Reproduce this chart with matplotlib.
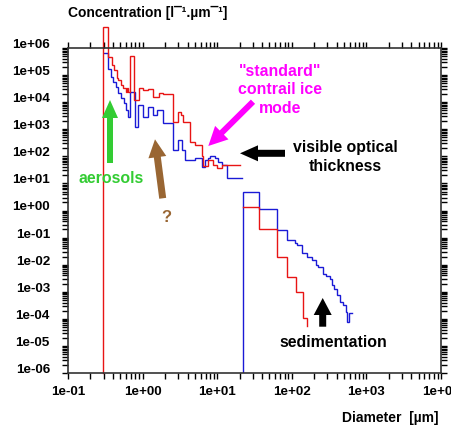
import numpy as np
import matplotlib
matplotlib.use('Agg')
import matplotlib.pyplot as plt
from matplotlib.patches import FancyArrow
from matplotlib.transforms import Affine2D
from matplotlib.ticker import LogLocator, NullFormatter, FuncFormatter

plt.rcParams['font.family'] = ['Liberation Sans', 'DejaVu Sans']
plt.rcParams['font.weight'] = 'bold'

# ---------------- data (diameter in um, concentration in l^-1 um^-1) ----------------
red_upper_diam = [0.297, 0.347, 0.389, 0.418, 0.450, 0.472, 0.508, 0.551, 0.593, 0.624,
                  0.643, 0.678, 0.774, 0.904, 1.02, 1.19, 1.39, 1.66, 1.89, 2.53,
                  2.94, 3.27, 3.52, 4.32, 5.04, 6.19, 6.52, 7.60, 8.87, 10.0,
                  11.5, 20.2]
red_upper_conc = [5.75e6, 4.8e5, 2.3e5, 1.55e5, 7.6e4, 6.6e4, 4.3e4, 3.2e4, 2.45e4, 3.3e4,
                  2.45e4, 5.0e5, 1.2e4, 3.2e4, 2.8e4, 3.1e4, 1.6e4, 2.2e4, 2.0e4, 1.9e3,
                  4.5e3, 3.4e3, 1.9e3, 350, 260, 100, 44, 71, 48, 36,
                  48]

blue_upper_diam = [0.304, 0.347, 0.377, 0.407, 0.440, 0.475, 0.513, 0.555, 0.598, 0.637,
                   0.678, 0.791, 0.875, 1.02, 1.19, 1.36, 1.56, 1.89, 2.58, 3.01,
                   3.34, 3.70, 5.04, 6.19, 6.85, 7.60, 8.00, 9.33, 10.35, 11.5,
                   13.4, 21.3]
blue_upper_conc = [6.8e5, 1.66e5, 8.5e4, 5.5e4, 3.6e4, 2.2e4, 1.4e4, 9.3e3, 5.1e3, 2.8e3,
                   2.4e4, 1.23e3, 7.9e3, 2.9e3, 6.8e3, 3.4e3, 5.1e3, 1.74e3, 174, 400,
                   174, 72, 87, 42, 72, 85, 102, 87, 62, 48,
                   15.5]

blue_tail_diam = [22.4, 36.6, 62.7, 87.1, 110, 116, 136, 161, 185, 211,
                  226, 259, 287, 325, 342, 368, 400, 443, 491, 527,
                  555, 590, 635]
blue_tail_conc = [4.93, 1.11, 0.19, 0.081, 0.062, 0.053, 0.0275, 0.0196, 0.0148, 0.0098,
                  0.0084, 0.00447, 0.0038, 0.00288, 0.00178, 0.00123, 7.6e-4, 4.3e-4, 3.2e-4, 1.8e-4,
                  7.9e-5, 1.6e-4]

red_tail_diam = [22.4, 36.6, 62.7, 87.1, 113, 143, 161]
red_tail_conc = [1.31, 0.202, 0.0196, 0.00359, 9.5e-4, 1.05e-4]
red_tail_end = 5.4e-5

x_ticks = [1e-1, 1e0, 1e1, 1e2, 1e3, 1e4]
y_ticks = [10.0 ** k for k in range(-6, 7)]

# ---------------- figure ----------------
W, H = 451, 426
fig = plt.figure(figsize=(W / 100, H / 100), dpi=100)
ax = fig.add_axes([68 / W, 1 - 373 / H, (441 - 68) / W, (373 - 48) / H])
ax.set_xscale('log')
ax.set_yscale('log')
ax.set_xlim(x_ticks[0], x_ticks[-1])
ax.set_ylim(y_ticks[0], y_ticks[-1])
YMIN = y_ticks[0]

RED = '#e81414'
BLUE = '#1a1ad6'


def steps(edges, conc, color, from_floor=False, end_level=None, clip=True):
    x = list(edges)
    y = list(conc) + [conc[-1] if end_level is None else end_level]
    if from_floor:
        x = [edges[0]] + x
        y = [YMIN] + y
    ax.plot(x, y, drawstyle='steps-post', color=color, lw=1.0, clip_on=clip,
            solid_joinstyle='miter')


steps(blue_upper_diam, blue_upper_conc, BLUE)
steps(blue_tail_diam, blue_tail_conc, BLUE, from_floor=True)
steps(red_upper_diam, red_upper_conc, RED, from_floor=True, clip=False)
steps(red_tail_diam, red_tail_conc, RED, end_level=red_tail_end)

# ticks
ax.set_xticks(x_ticks)
ax.set_yticks(y_ticks)
ax.xaxis.set_minor_locator(LogLocator(base=10, subs=np.arange(2, 10) * 1.0, numticks=100))
ax.yaxis.set_minor_locator(LogLocator(base=10, subs=np.arange(2, 10) * 1.0, numticks=200))
fmt = FuncFormatter(lambda v, p: f"{v:.0e}")
ax.xaxis.set_major_formatter(fmt)
ax.yaxis.set_major_formatter(fmt)
ax.xaxis.set_minor_formatter(NullFormatter())
ax.yaxis.set_minor_formatter(NullFormatter())
ax.tick_params(which='both', direction='out', length=4, width=1.0,
               top=True, right=True, labelsize=9.7, colors='black')
ax.tick_params(axis='y', pad=9.0)
ax.tick_params(axis='x', pad=5.5)
for t in ax.yaxis.get_major_ticks():
    t.label1.set_verticalalignment('baseline')
for sp in ax.spines.values():
    sp.set_linewidth(1.2)
    sp.set_color('#333333')

# ---------------- annotations (positions in figure pixels from top-left) ----------------
T = Affine2D().scale(1, -1).translate(0, H)


def arrow(x0, y0, x1, y1, color, w, hw, hl):
    fig.add_artist(FancyArrow(x0, y0, x1 - x0, y1 - y0, width=w, head_width=hw,
                              head_length=hl, length_includes_head=True,
                              transform=T, color=color, lw=0))


def txt(x, y, s, color, size=11.4, ha='center', **kw):
    fig.text(x / W, 1 - y / H, s, color=color, fontsize=size, ha=ha, va='center', **kw)


GREEN = '#33cc33'
BROWN = '#996633'
MAGENTA = '#ff00ff'

arrow(110, 163, 110, 100, GREEN, 6, 16, 18)
arrow(162.7, 198.3, 155, 139.3, BROWN, 7, 18, 18)
arrow(253, 101.7, 208.3, 146, MAGENTA, 6, 19, 19)
arrow(285, 153.3, 240, 153.3, 'black', 7, 16, 18)
arrow(322.7, 326.7, 322.7, 298, 'black', 7, 18, 17)

txt(111.5, 178, 'aerosols', GREEN)
txt(166, 217, '?', BROWN, size=12)
txt(280, 90, '"standard"\ncontrail ice\nmode', MAGENTA, linespacing=1.3)
txt(345, 157, 'visible optical\nthickness', 'black', linespacing=1.33)
txt(333, 342.7, 'sedimentation', 'black')

txt(68, 13, 'Concentration [l¯¹.µm¯¹]', 'black', size=10, ha='left')
txt(439, 418, 'Diameter  [µm]', 'black', size=10, ha='right')

fig.savefig('out.png', dpi=100)
